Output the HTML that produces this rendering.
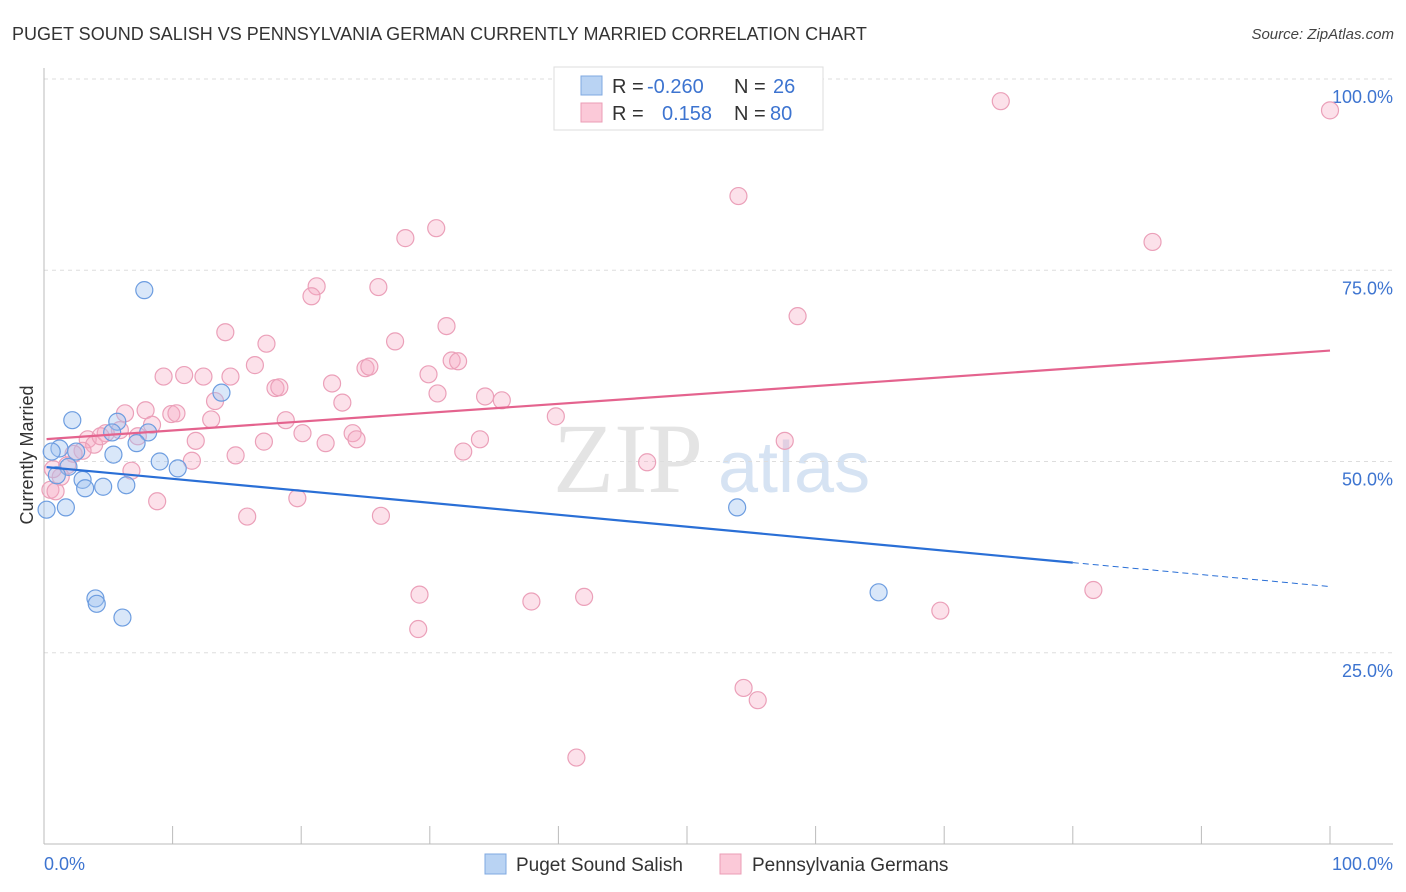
<!DOCTYPE html>
<html><head><meta charset="utf-8">
<style>
body{margin:0;background:#fff;font-family:"Liberation Sans",sans-serif;}
svg{display:block}
</style></head>
<body>
<svg id="chart" width="1406" height="892" viewBox="0 0 1406 892">
<text x="12" y="40" font-size="18" fill="#333">PUGET SOUND SALISH VS PENNSYLVANIA GERMAN CURRENTLY MARRIED CORRELATION CHART</text>
<text x="1394" y="39" font-size="15" font-style="italic" fill="#444" text-anchor="end">Source: ZipAtlas.com</text>
<text x="553" y="492" font-size="100" font-family="Liberation Serif,serif" fill="#e4e4e4">ZIP</text>
<text x="718" y="492" font-size="72" fill="#d6e3f3">atlas</text>
<text transform="translate(33,455) rotate(-90)" font-size="18" fill="#333" text-anchor="middle">Currently Married</text>
<g id="grid"></g><g id="pts"></g><g id="lines"></g>
<g>
<rect x="554" y="67" width="269" height="63" fill="#fff" stroke="#ddd"/>
<rect x="581" y="76" width="21" height="19" fill="#b9d3f3" stroke="#7fa8e0"/>
<rect x="581" y="103" width="21" height="19" fill="#fbc9d8" stroke="#eb9db6"/>
<text x="612" y="93" font-size="20" fill="#333">R =</text>
<text x="647" y="93" font-size="20" fill="#3d74d0">-0.260</text>
<text x="734" y="93" font-size="20" fill="#333">N =</text>
<text x="773" y="93" font-size="20" fill="#3d74d0">26</text>
<text x="612" y="120" font-size="20" fill="#333">R =</text>
<text x="662" y="120" font-size="20" fill="#3d74d0">0.158</text>
<text x="734" y="120" font-size="20" fill="#333">N =</text>
<text x="770" y="120" font-size="20" fill="#3d74d0">80</text>
</g>
<g>
<rect x="485" y="854" width="21" height="20" fill="#b9d3f3" stroke="#7fa8e0"/>
<text x="516" y="871" font-size="19" fill="#333">Puget Sound Salish</text>
<rect x="720" y="854" width="21" height="20" fill="#fbc9d8" stroke="#eb9db6"/>
<text x="752" y="871" font-size="19" fill="#333">Pennsylvania Germans</text>
</g>
</svg>
<script>
const yTicks=[25,50,75,100];
const yTickLabels=["25.0%","50.0%","75.0%","100.0%"];
const xTickLabels=["0.0%","100.0%"];
const blueX=[7.8,13.8,2.2,5.7,1.2,0.6,2.5,5.3,8.1,7.2,5.4,9.0,10.4,1.9,1.0,3.0,3.2,4.6,6.4,1.7,0.2,4.0,4.1,6.1,53.9,64.9];
const blueY=[72.4,59.0,55.4,55.2,51.7,51.3,51.3,53.8,53.8,52.4,50.9,50.0,49.1,49.3,48.2,47.6,46.5,46.7,46.9,44.0,43.7,32.1,31.4,29.6,44.0,32.9];
const pinkX=[74.4,100,54.0,86.2,30.5,28.1,21.2,20.8,26.0,58.6,14.1,31.3,17.3,27.3,16.4,25.0,25.3,31.7,32.2,9.3,10.9,12.4,14.5,29.9,22.4,18.0,18.3,30.6,34.3,35.6,13.3,23.2,9.9,10.3,7.9,6.3,13.0,18.8,39.8,8.4,5.9,4.8,7.3,20.1,24.0,11.8,17.1,21.9,24.3,33.9,3.4,3.9,3.0,2.3,11.5,14.9,32.6,57.6,46.9,1.8,6.8,1.3,0.5,0.9,8.8,19.7,15.8,26.2,29.2,37.9,42.0,29.1,69.7,81.6,54.4,55.5,41.4,0.7,4.4,49.9];
const pinkY=[97.1,95.9,84.7,78.7,80.5,79.2,72.9,71.6,72.8,69.0,66.9,67.7,65.4,65.7,62.6,62.2,62.4,63.2,63.1,61.1,61.3,61.1,61.1,61.4,60.2,59.6,59.7,58.9,58.5,58.0,57.9,57.7,56.2,56.3,56.7,56.3,55.5,55.4,55.9,54.8,54.1,53.7,53.3,53.7,53.7,52.7,52.6,52.4,52.9,52.9,52.9,52.2,51.4,51.0,50.1,50.8,51.3,52.7,49.9,49.5,48.8,48.0,46.3,46.1,44.8,45.2,42.8,42.9,32.6,31.7,32.3,28.1,30.5,33.2,20.4,18.8,11.3,49.0,53.3,99.7];
const blueTrend=[49.3,-0.1565]; const blueSolidEnd=80;
const pinkTrend=[52.9,0.116];
const X0=44,X1=1330,Y0=844,Y1=79;
const sx=v=>X0+(X1-X0)*v/100, sy=v=>Y0-(Y0-Y1)*v/100;
const NS="http://www.w3.org/2000/svg";
function mk(t,a,p){const e=document.createElementNS(NS,t);for(const k in a)e.setAttribute(k,a[k]);p.appendChild(e);return e;}
const grid=document.getElementById('grid');
yTicks.forEach((t,i)=>{
 const l=mk('line',{x1:X0,x2:1393,y1:sy(t),y2:sy(t),stroke:'#ddd','stroke-dasharray':'4,4'},grid);
 
 
 const tx=mk('text',{x:1393,y:sy(t)+24,'font-size':18,fill:'#3d74d0','text-anchor':'end'},grid);
 tx.textContent=yTickLabels[i];
 
 
});
const ax=mk('line',{x1:X0,x2:X0,y1:68,y2:Y0,stroke:'#bbb'},grid);


const bx=mk('line',{x1:X0,x2:1393,y1:Y0,y2:Y0,stroke:'#bbb'},grid);


for(let i=0;i<=10;i++){const t=mk('line',{x1:sx(i*10),x2:sx(i*10),y1:Y0-18,y2:Y0,stroke:'#bbb'},grid);
 
 }
[[0,'start',44],[100,'end',1393]].forEach((d,i)=>{const t=mk('text',{x:d[2],y:870,'font-size':18,fill:'#3d74d0','text-anchor':d[1]},grid);t.textContent=xTickLabels[i];
 
 });
const pts=document.getElementById('pts');
pinkX.forEach((x,i)=>{const c=mk('circle',{cx:sx(x),cy:sy(pinkY[i]),r:8.5,fill:'rgba(246,170,195,0.35)',stroke:'#eba0b9','stroke-width':1.2},pts);
 
 });
blueX.forEach((x,i)=>{const c=mk('circle',{cx:sx(x),cy:sy(blueY[i]),r:8.5,fill:'rgba(160,195,240,0.4)',stroke:'#6d9de0','stroke-width':1.2},pts);
 
 });
const lines=document.getElementById('lines');
const f=(tr,x)=>tr[0]+tr[1]*x;
let l1=mk('line',{x1:sx(0.2),y1:sy(f(blueTrend,0.2)),x2:sx(blueSolidEnd),y2:sy(f(blueTrend,blueSolidEnd)),stroke:'#2a6fd6','stroke-width':2.2},lines);


let l2=mk('line',{x1:sx(blueSolidEnd),y1:sy(f(blueTrend,blueSolidEnd)),x2:sx(100),y2:sy(f(blueTrend,100)),stroke:'#2a6fd6','stroke-width':1,'stroke-dasharray':'6,4'},lines);


let l3=mk('line',{x1:sx(0.2),y1:sy(f(pinkTrend,0.2)),x2:sx(100),y2:sy(f(pinkTrend,100)),stroke:'#e4638e','stroke-width':2.2},lines);


</script>
</body></html>
